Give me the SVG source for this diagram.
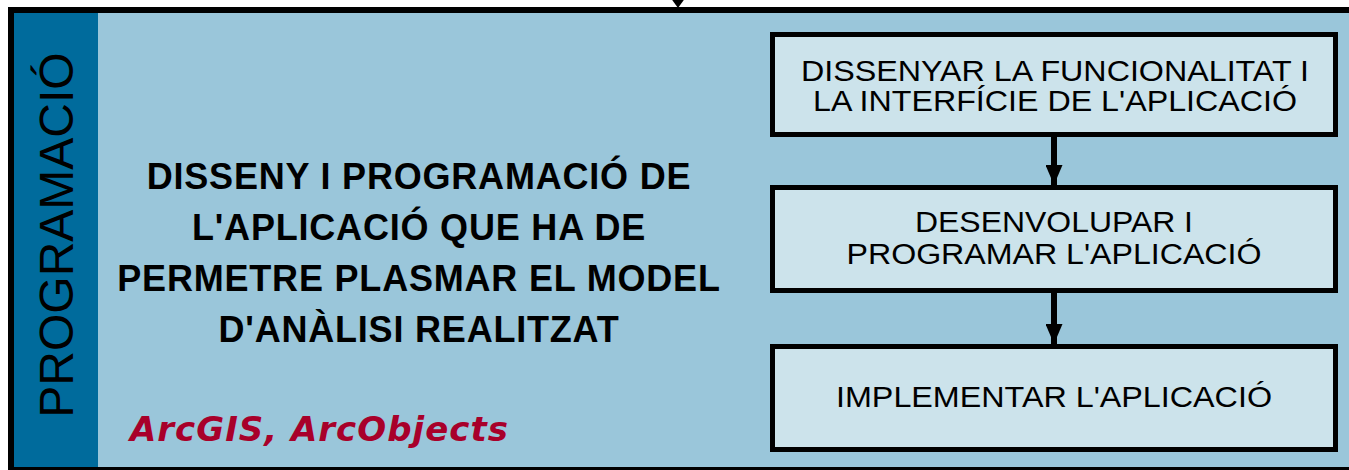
<svg xmlns="http://www.w3.org/2000/svg" width="1349" height="470" viewBox="0 0 1349 470">
<style>
.frame{fill:#9AC6DA;stroke:#000;stroke-width:6}
.side{fill:#006B9C}
.box{fill:#CCE3EB;stroke:#000;stroke-width:5}
.bt{font-family:"Liberation Sans",Arial,sans-serif;font-size:30px;fill:#000;text-anchor:middle}
.ct{font-family:"Liberation Sans",Arial,sans-serif;font-size:36px;font-weight:bold;fill:#000;text-anchor:middle;letter-spacing:0.8px}
.side-t{font-family:"Liberation Sans",Arial,sans-serif;font-size:48px;fill:#000;text-anchor:middle}
.red{font-family:"DejaVu Sans",Verdana,sans-serif;font-size:34px;font-weight:bold;font-style:italic;fill:#A8002A;letter-spacing:1px}
.conn{stroke:#000;stroke-width:6;fill:none}
</style>
<defs>
<marker id="ah" viewBox="0 0 20 17" refX="20" refY="8.5" markerWidth="20" markerHeight="17" markerUnits="userSpaceOnUse" orient="auto">
<path d="M0,0 L20,8.5 L0,17 Z" fill="#000"/>
</marker>
</defs>
<rect width="1349" height="470" fill="#fff"/>
<g id="panel">
<rect class="frame" x="11" y="10" width="1400" height="460"/>
<rect class="side" x="14" y="13" width="84" height="454"/>
<text class="side-t" transform="translate(73,235) rotate(-90)">PROGRAMACIÓ</text>
</g>
<g id="description">
<text class="ct" x="419" y="189">DISSENY I PROGRAMACIÓ DE</text>
<text class="ct" x="419" y="240">L'APLICACIÓ QUE HA DE</text>
<text class="ct" x="419" y="291">PERMETRE PLASMAR EL MODEL</text>
<text class="ct" x="419" y="342">D'ANÀLISI REALITZAT</text>
</g>
<g id="tools">
<text class="red" x="130" y="441">ArcGIS, ArcObjects</text>
</g>
<g id="connectors">
<line x1="678" y1="-30" x2="678" y2="-5" stroke="#000" stroke-width="3" marker-end="url(#ah)"/>
<path d="M670,-3 L686,-3 L678,8 Z" fill="#000"/>
<line class="conn" x1="1054" y1="137" x2="1054" y2="185" marker-end="url(#ah)"/>
<line class="conn" x1="1054" y1="292" x2="1054" y2="344" marker-end="url(#ah)"/>
</g>
<g id="step1">
<rect class="box" x="772.5" y="34.5" width="563" height="100"/>
<text class="bt" x="1055" y="81" textLength="508" lengthAdjust="spacingAndGlyphs">DISSENYAR LA FUNCIONALITAT I</text>
<text class="bt" x="1055" y="111" textLength="484" lengthAdjust="spacingAndGlyphs">LA INTERFÍCIE DE L'APLICACIÓ</text>
</g>
<g id="step2">
<rect class="box" x="772.5" y="187.5" width="563" height="103"/>
<text class="bt" x="1054" y="232" textLength="278" lengthAdjust="spacingAndGlyphs">DESENVOLUPAR I</text>
<text class="bt" x="1054" y="264" textLength="415" lengthAdjust="spacingAndGlyphs">PROGRAMAR L'APLICACIÓ</text>
</g>
<g id="step3">
<rect class="box" x="772.5" y="346.5" width="563" height="103"/>
<text class="bt" x="1054" y="407" textLength="436" lengthAdjust="spacingAndGlyphs">IMPLEMENTAR L'APLICACIÓ</text>
</g>
</svg>
